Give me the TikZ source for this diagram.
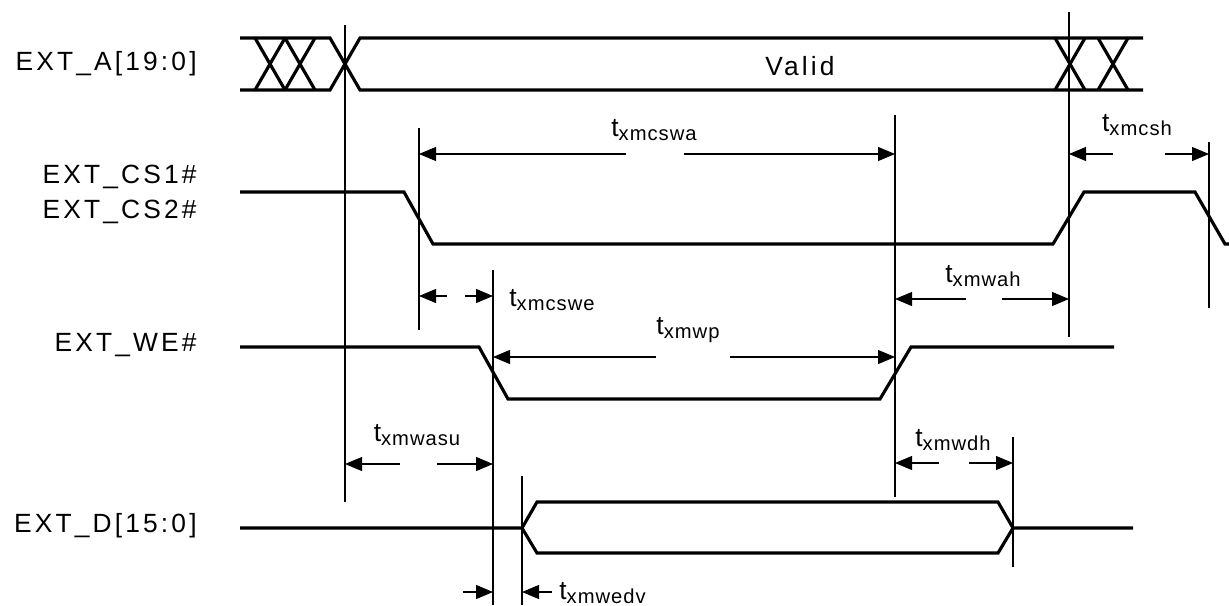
\documentclass[tikz,border=0pt]{standalone}
\usepackage{fontspec}
\setmainfont{Liberation Sans}
\newfontfamily\sigfont[LetterSpace=12]{Liberation Sans}
\newfontfamily\subfont[LetterSpace=5]{Liberation Sans}
\usetikzlibrary{arrows.meta}
\newcommand{\tname}[1]{{\sigfont\fontsize{15}{17}\selectfont t}{\subfont\fontsize{11.5}{13}\selectfont\raisebox{-2pt}{#1}}}

\begin{document}
\begin{tikzpicture}[x=0.02cm,y=-0.02cm,
    sig/.style={line width=1.8pt},
    guide/.style={line width=0.6pt},
    dim/.style={line width=0.6pt,-{Triangle[length=3.4mm,width=2.8mm]}},
    signame/.style={font=\sigfont\fontsize{15}{17}\selectfont,inner sep=0pt,anchor=east},
    tlabel/.style={inner sep=0pt}]
    \useasboundingbox (0,0) rectangle (1229,605);
    \node[signame] (addr) at (197,64) {EXT\_A[19:0]};
    \node[signame] (csone) at (197,177) {EXT\_CS1\#};
    \node[signame] (cstwo) at (197,212) {EXT\_CS2\#};
    \node[signame] (we) at (197,345) {EXT\_WE\#};
    \node[signame] (data) at (197,526) {EXT\_D[15:0]};
    \draw[guide] (345,25) -- (345,502);
    \draw[guide] (419,128) -- (419,330);
    \draw[guide] (493,270) -- (493,605);
    \draw[guide] (522,476) -- (522,605);
    \draw[guide] (895,115) -- (895,497);
    \draw[guide] (1013,437) -- (1013,567);
    \draw[guide] (1069,12) -- (1069,337);
    \draw[guide] (1209,142) -- (1209,308);
    \draw[sig] (240,38) -- (330,38) -- (360,90) -- (1143,90);
    \draw[sig] (240,90) -- (330,90) -- (360,38) -- (1143,38);
    \foreach \x in {255,285,1055,1098}
        \draw[sig] (\x,38) -- (\x+30,90) (\x,90) -- (\x+30,38);
    \node[font=\sigfont\fontsize{15}{17}\selectfont] (valid) at (800,66) {Valid};
    \draw[sig] (240,192) -- (404,192) -- (433,244) -- (1053,244) -- (1084,192) -- (1195,192) -- (1225,244) -- (1229,244);
    \draw[sig] (240,347) -- (479,347) -- (508,399) -- (880,399) -- (911,347) -- (1114,347);
    \draw[sig] (240,528) -- (522,528) -- (537,502) -- (998,502) -- (1013,528) -- (1133,528);
    \draw[sig] (522,528) -- (537,553) -- (998,553) -- (1013,528);
    \draw[dim] (626,154) -- (419,154); \draw[dim] (684,154) -- (895,154);
    \draw[dim] (1113,154) -- (1069,154); \draw[dim] (1165,154) -- (1209,154);
    \draw[dim] (447,296) -- (419,296); \draw[dim] (465,296) -- (493,296);
    \draw[dim] (966,299) -- (895,299); \draw[dim] (1002,299) -- (1069,299);
    \draw[dim] (656,357) -- (493,357); \draw[dim] (730,357) -- (895,357);
    \draw[dim] (400,464) -- (345,464); \draw[dim] (437,464) -- (493,464);
    \draw[dim] (939,463) -- (895,463); \draw[dim] (969,463) -- (1013,463);
    \draw[dim] (463,592) -- (493,592); \draw[dim] (552,592) -- (522,592);
    \node[tlabel] (cswa) at (654,130) {\tname{xmcswa}};
    \node[tlabel] (csh) at (1137,125) {\tname{xmcsh}};
    \node[tlabel,anchor=west] (cswe) at (509,300) {\tname{xmcswe}};
    \node[tlabel] (wah) at (983,276) {\tname{xmwah}};
    \node[tlabel] (wp) at (688,330) {\tname{xmwp}};
    \node[tlabel] (wasu) at (417,435) {\tname{xmwasu}};
    \node[tlabel] (wdh) at (953,440) {\tname{xmwdh}};
    \node[tlabel,anchor=west] (wedv) at (559,593) {\tname{xmwedv}};
\end{tikzpicture}
\end{document}
